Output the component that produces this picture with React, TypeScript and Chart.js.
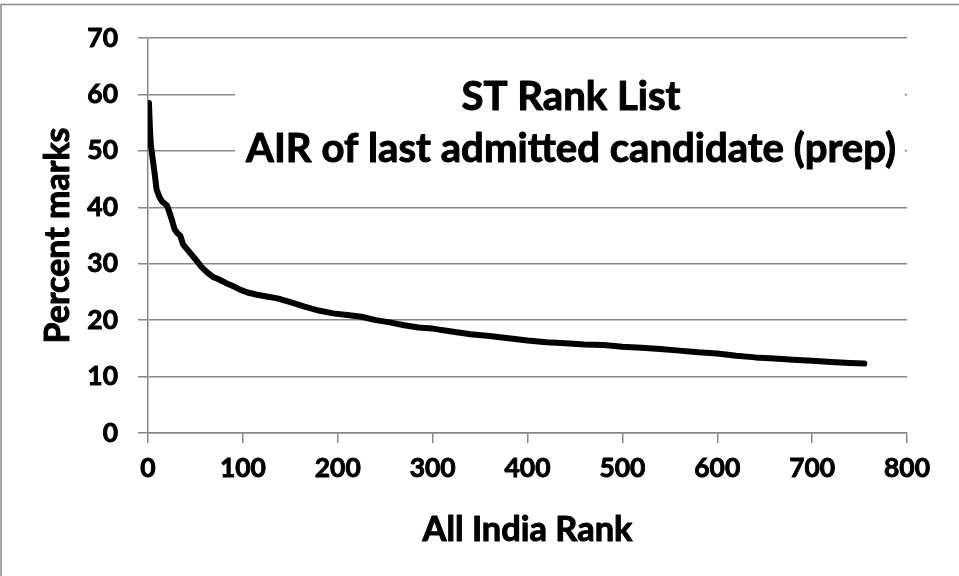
import { useEffect, useRef } from "react";
import { Chart, registerables } from "chart.js";

Chart.register(...registerables);

// All India Rank of the last admitted candidate
const ranks = [
  1, 2, 3, 5, 7, 9, 12, 15, 18, 20,
  23, 26, 28, 31, 34, 37, 40, 45, 50, 56,
  62, 68, 75, 82, 90, 97, 105, 115, 125, 135,
  140, 150, 165, 180, 195, 210, 225, 240, 255, 270,
  285, 300, 320, 340, 360, 380, 400, 420, 440, 460,
  480, 500, 520, 540, 560, 580, 600, 620, 640, 660,
  680, 700, 720, 740, 755,
];
// Percent marks
const percents = [
  58.5, 54, 51, 48.5, 46, 43.2, 41.8, 41, 40.6, 40.3,
  38.9, 37.3, 36.1, 35.4, 35, 33.4, 32.8, 31.8, 30.8, 29.5,
  28.5, 27.7, 27.2, 26.6, 26, 25.4, 24.9, 24.5, 24.2, 23.9,
  23.7, 23.2, 22.4, 21.7, 21.2, 20.9, 20.6, 20, 19.6, 19.1,
  18.7, 18.5, 18, 17.5, 17.2, 16.8, 16.4, 16.1, 15.9, 15.7,
  15.6, 15.3, 15.1, 14.9, 14.6, 14.3, 14.1, 13.7, 13.4, 13.2,
  13.0, 12.8, 12.6, 12.4, 12.3,
];
const titleLines = ["ST Rank List", "AIR of last admitted candidate (prep)"];
const xTitle = "All India Rank";
const yTitle = "Percent marks";
const xMin = 0, xMax = 800, xStep = 100;
const yMin = 0, yMax = 70, yStep = 10;

const FAMILY = "Lato";
const WEIGHT = "bold";
const GRID = "#878787";

function fitSize(text: string, width: number): number {
  const c = document.createElement("canvas").getContext("2d")!;
  c.font = `${WEIGHT} 100px ${FAMILY}`;
  return (100 * width) / c.measureText(text).width;
}

function boldText(ctx: CanvasRenderingContext2D, text: string, x: number, y: number) {
  ctx.fillText(text, x, y);
  ctx.strokeText(text, x, y);
}

export default function App() {
  const ref = useRef<HTMLCanvasElement | null>(null);

  useEffect(() => {
    if (!ref.current) return;
    const titleSize = fitSize(titleLines[1], 650);
    const yTitleSize = fitSize(yTitle, 216);
    const xTitleSize = fitSize(xTitle, 210);
    const tickSize = fitSize("800", 46);

    const bgPlugin = {
      id: "bg",
      beforeDraw(chart: any) {
        const ctx = chart.ctx;
        ctx.save();
        ctx.fillStyle = "#ffffff";
        ctx.fillRect(0, 0, chart.width, chart.height);
        ctx.strokeStyle = "#8c8c8c";
        ctx.lineWidth = 1.5;
        ctx.beginPath();
        ctx.moveTo(1, chart.height);
        ctx.lineTo(1, 4.5);
        ctx.lineTo(chart.width, 4.5);
        ctx.stroke();
        ctx.restore();
      },
    };

    const textPlugin = {
      id: "texts",
      beforeDatasetsDraw(chart: any) {
        const ctx = chart.ctx;
        const area = chart.chartArea;
        ctx.save();
        ctx.fillStyle = "#ffffff";
        ctx.fillRect(235, 62, 670, 126);
        ctx.fillStyle = "#000000";
        ctx.strokeStyle = "#000000";
        ctx.lineWidth = 1;
        ctx.lineJoin = "round";
        ctx.textAlign = "center";
        // chart title (inside plot)
        ctx.font = `${WEIGHT} ${titleSize}px ${FAMILY}`;
        ctx.textBaseline = "alphabetic";
        boldText(ctx, titleLines[0], 571, 110);
        boldText(ctx, titleLines[1], 571, 162);
        // x axis title
        ctx.textBaseline = "middle";
        ctx.font = `${WEIGHT} ${xTitleSize}px ${FAMILY}`;
        boldText(ctx, xTitle, (area.left + area.right) / 2, chart.height - (xTitleSize * 1.2) / 2 - 25);
        // y axis title
        ctx.font = `${WEIGHT} ${yTitleSize}px ${FAMILY}`;
        ctx.translate((yTitleSize * 1.2) / 2 + 38, (area.top + area.bottom) / 2);
        ctx.rotate(-Math.PI / 2);
        boldText(ctx, yTitle, 0, 0);
        ctx.restore();
      },
    };

    const chart = new Chart(ref.current, {
      type: "scatter",
      data: {
        datasets: [
          {
            data: ranks.map((r, i) => ({ x: r, y: percents[i] })),
            showLine: true,
            borderColor: "#000000",
            borderWidth: 6,
            borderCapStyle: "round",
            borderJoinStyle: "round",
            pointRadius: 0,
            tension: 0,
          },
        ],
      },
      options: {
        animation: false,
        responsive: false,
        layout: { padding: { top: 38, right: 52, bottom: 0, left: 0 } },
        plugins: { legend: { display: false }, tooltip: { enabled: false } },
        scales: {
          x: {
            type: "linear",
            min: xMin,
            max: xMax,
            afterFit: (s: any) => {
              s.height = 143;
            },
            ticks: {
              stepSize: xStep,
              color: "#000",
              padding: 10,
              textStrokeColor: "#000",
              textStrokeWidth: 0.9,
              font: { family: FAMILY, weight: WEIGHT, size: tickSize },
              maxRotation: 0,
            },
            grid: { drawOnChartArea: false, drawTicks: true, tickLength: 10, color: GRID, lineWidth: 1.5 },
            border: { display: true, color: GRID, width: 1.5 },
            title: { display: false, text: xTitle },
          },
          y: {
            type: "linear",
            min: yMin,
            max: yMax,
            afterFit: (s: any) => {
              s.width = 148;
            },
            ticks: {
              stepSize: yStep,
              color: "#000",
              padding: 20,
              textStrokeColor: "#000",
              textStrokeWidth: 0.9,
              font: { family: FAMILY, weight: WEIGHT, size: tickSize },
            },
            grid: { drawTicks: true, tickLength: 10, color: GRID, lineWidth: 1.5 },
            border: { display: true, color: GRID, width: 1.5 },
            title: { display: false, text: yTitle },
          },
        },
      },
      plugins: [bgPlugin, textPlugin],
    } as any);

    return () => chart.destroy();
  }, []);

  return (
    <div style={{ position: "absolute", left: 0, top: 0, width: 959, height: 576 }}>
      <canvas ref={ref} width={959} height={576} />
    </div>
  );
}
